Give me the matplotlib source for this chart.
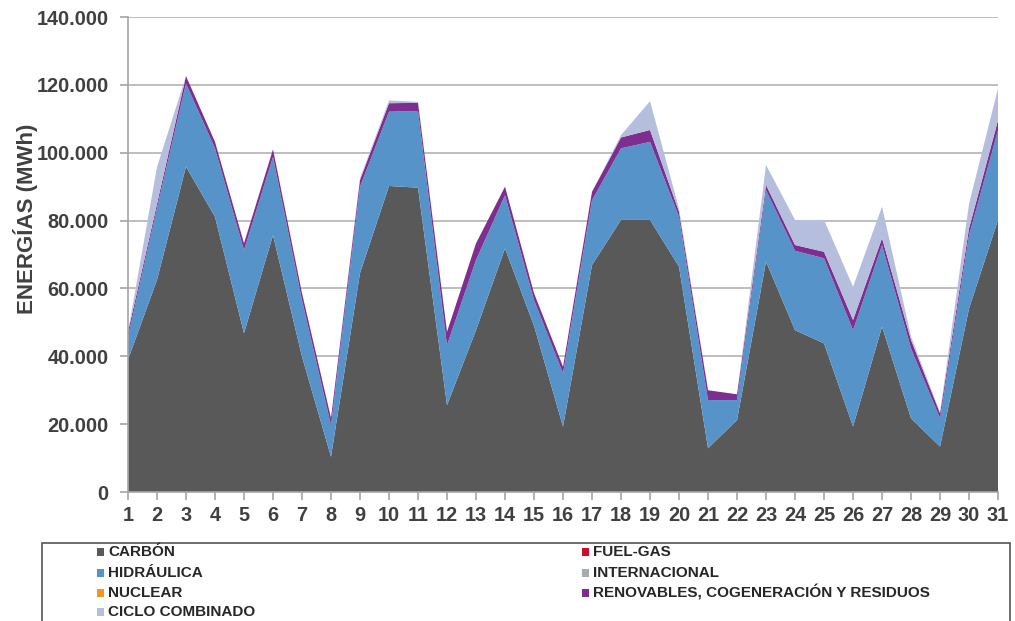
import numpy as np
import matplotlib.pyplot as plt
from matplotlib.patches import Rectangle
from matplotlib.ticker import FuncFormatter

plt.rcParams['font.family'] = ['Liberation Sans', 'DejaVu Sans']

# ---------------- data (MWh) ----------------
days = list(range(1, 32))

carbon = [39000, 62500, 95900, 81100, 46800, 75700, 39900, 10400, 64500, 90200,
          89700, 25600, 47700, 71800, 49000, 19300, 66900, 80200, 80200, 66400,
          12900, 21200, 67900, 47700, 43800, 19300, 48700, 21700, 13400, 54100,
          80200]
fuel_gas = [0] * 31
hidraulica = [6800, 21200, 24500, 20200, 24500, 23100, 16700, 9300, 25500, 21900,
              22600, 17700, 20700, 15700, 7600, 15700, 19100, 21100, 23000, 14700,
              14200, 5900, 21100, 23400, 25100, 28400, 24100, 20600, 8300, 21600,
              26500]
internacional = [0] * 31
nuclear = [0] * 31
renovables = [1400, 1200, 2200, 1900, 2000, 2200, 2000, 2100, 2000, 2500,
              2400, 3900, 4900, 2500, 2000, 1900, 2500, 3200, 3500, 1500,
              2900, 1700, 1500, 1700, 1900, 3000, 2000, 2500, 1500, 2000,
              2900]
ciclo = [0, 10900, 0, 0, 0, 0, 0, 0, 500, 800,
         300, 0, 0, 0, 0, 0, 0, 700, 8500, 900,
         0, 0, 5900, 7400, 9400, 9800, 9300, 1000, 300, 7300,
         9400]

series = [
    ("CARBÓN", carbon, "#595959"),
    ("FUEL-GAS", fuel_gas, "#c8102e"),
    ("HIDRÁULICA", hidraulica, "#5593c9"),
    ("INTERNACIONAL", internacional, "#a5adb2"),
    ("NUCLEAR", nuclear, "#f7941d"),
    ("RENOVABLES, COGENERACIÓN Y RESIDUOS", renovables, "#7d2e8e"),
    ("CICLO COMBINADO", ciclo, "#b5bfdd"),
]

fig = plt.figure(figsize=(10.15, 6.21), dpi=100)
ax = fig.add_axes([0.1261, 0.2077, 0.8572, 0.7649])

ax.stackplot(days, *[s[1] for s in series], colors=[s[2] for s in series],
             linewidth=0, zorder=2)

ax.set_xlim(1, 31)
ax.set_ylim(0, 140000)
ax.set_yticks(np.arange(0, 140001, 20000))
ax.set_xticks(days)
ax.yaxis.set_major_formatter(FuncFormatter(lambda v, p: f"{int(v):,}".replace(",", ".")))
ax.grid(axis='y', color='#b3b3b3', linewidth=1.2, zorder=0)
ax.set_axisbelow(True)

for side in ['top', 'right']:
    ax.spines[side].set_visible(False)
for side in ['left', 'bottom']:
    ax.spines[side].set_color('#a6a6a6')
    ax.spines[side].set_linewidth(1.2)

ax.tick_params(axis='both', colors='#a6a6a6', length=6, width=1.2,
               labelcolor='#404040', labelsize=14.3)
for lbl in ax.get_xticklabels() + ax.get_yticklabels():
    lbl.set_fontweight('bold')
ax.tick_params(axis='x', pad=4)
ax.tick_params(axis='y', pad=8)

ax.set_ylabel("ENERGÍAS (MWh)", fontsize=16, fontweight='bold', color='#404040')
ax.yaxis.set_label_coords(-0.104, 0.575)

# ---------------- legend (manual, two columns) ----------------
W, H = 1015, 621
fig.add_artist(Rectangle((42 / W, -0.05), (1010 - 42) / W, 1 - 543 / H + 0.05,
                         transform=fig.transFigure, facecolor='white',
                         edgecolor='#555555', linewidth=1.2))

legend_pos = {
    "CARBÓN": (100, 552), "HIDRÁULICA": (100, 573), "NUCLEAR": (100, 593),
    "CICLO COMBINADO": (100, 612), "FUEL-GAS": (585, 552),
    "INTERNACIONAL": (585, 573), "RENOVABLES, COGENERACIÓN Y RESIDUOS": (585, 593),
}
for name, vals, col in series:
    px, py = legend_pos[name]
    fig.add_artist(Rectangle(((px - 3) / W, 1 - (py + 4) / H), 7 / W, 8 / H,
                             transform=fig.transFigure, facecolor=col, edgecolor='none'))
    fig.text((px + 8) / W, 1 - py / H, name, fontsize=11, fontweight='bold',
             color='#262626', va='center', ha='left')

fig.savefig("out.png", dpi=100)
